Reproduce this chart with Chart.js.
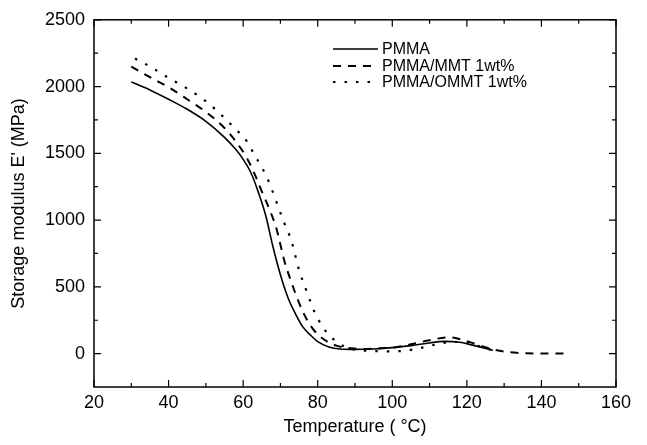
<!DOCTYPE html>
<html>
<head>
<meta charset="utf-8">
<script src="https://cdn.jsdelivr.net/npm/chart.js@4.4.0/dist/chart.umd.min.js"></script>
<style>
    html, body { margin: 0; padding: 0; background: #fff; }
    #wrap { width: 647px; height: 445px; }
</style>
</head>
<body>
<div id="wrap"><canvas id="dmaChart"></canvas></div>
<script>
// storage modulus curves (temperature in °C, E' in MPa)
const pmmaTemp = [30, 35, 40, 45, 50, 55, 58, 60, 62, 64, 66, 68, 70, 72, 74, 76, 78, 80, 83, 86, 90, 95, 100, 105, 110, 114, 118, 122, 127];
const pmmaMod  = [2035, 1975, 1905, 1830, 1740, 1620, 1530, 1455, 1360, 1215, 1040, 800, 590, 420, 300, 200, 140, 90, 50, 35, 32, 35, 45, 60, 80, 92, 85, 60, 25];

const mmtTemp = [30, 35, 40, 45, 50, 55, 58, 61, 63, 65, 67, 69, 71, 73, 75, 77, 79, 82, 85, 89, 93, 97, 101, 105, 110, 115, 118, 121, 124, 127, 131, 136, 142, 147];
const mmtMod  = [2150, 2070, 1995, 1905, 1810, 1690, 1590, 1465, 1350, 1215, 1085, 930, 700, 530, 380, 260, 175, 100, 60, 40, 35, 40, 48, 70, 100, 122, 110, 84, 55, 32, 12, 3, 1, 0];

const ommtTemp = [31, 35, 40, 45, 50, 55, 58, 61, 63, 65, 67, 69, 71, 73, 75, 77, 79, 81, 83, 85, 87, 90, 94, 99, 102, 105, 108, 112, 116, 120, 124, 127];
const ommtMod  = [2210, 2150, 2065, 1985, 1890, 1765, 1680, 1590, 1490, 1395, 1280, 1130, 980, 840, 625, 470, 320, 215, 140, 90, 55, 30, 20, 17, 18, 28, 45, 70, 88, 80, 50, 25];

const seriesNames = ['PMMA', 'PMMA/MMT 1wt%', 'PMMA/OMMT 1wt%'];

// axis ticks
const xTickValues = [20, 40, 60, 80, 100, 120, 140, 160];
const xMinorTicks = [30, 50, 70, 90, 110, 130, 150];
const yTickValues = [0, 500, 1000, 1500, 2000, 2500];
const yMinorTicks = [250, 750, 1250, 1750, 2250];

const FONT = 'Liberation Sans, Arial, sans-serif';

function toPoints(xs, ys) {
    return xs.map((t, i) => ({ x: t, y: ys[i] }));
}

// 边框 + 朝内的刻度线
const frameTicks = {
    id: 'frameTicks',
    afterDatasetsDraw(chart) {
        const { ctx, chartArea: a, scales: { x, y } } = chart;
        ctx.save();
        ctx.strokeStyle = '#000';
        ctx.lineWidth = 1.5;
        ctx.strokeRect(a.left, a.top, a.right - a.left, a.bottom - a.top);
        ctx.lineWidth = 1.2;
        ctx.beginPath();
        const xTick = (v, len) => {
            const px = x.getPixelForValue(v);
            ctx.moveTo(px, a.bottom); ctx.lineTo(px, a.bottom - len);
            ctx.moveTo(px, a.top); ctx.lineTo(px, a.top + len);
        };
        const yTick = (v, len) => {
            const py = y.getPixelForValue(v);
            ctx.moveTo(a.left, py); ctx.lineTo(a.left + len, py);
            ctx.moveTo(a.right, py); ctx.lineTo(a.right - len, py);
        };
        xTickValues.forEach(v => xTick(v, 7));
        xMinorTicks.forEach(v => xTick(v, 4));
        yTickValues.forEach(v => yTick(v, 7));
        yMinorTicks.forEach(v => yTick(v, 4));
        ctx.stroke();
        ctx.restore();
    }
};

// 图例放在图内右上方
const insideLegend = {
    id: 'insideLegend',
    afterDraw(chart) {
        const { ctx } = chart;
        const rows = [49, 66, 82];
        ctx.save();
        chart.data.datasets.forEach((ds, i) => {
            ctx.strokeStyle = '#000';
            ctx.lineWidth = ds.borderWidth;
            ctx.setLineDash(ds.borderDash || []);
            ctx.beginPath();
            ctx.moveTo(333, rows[i]);
            ctx.lineTo(378, rows[i]);
            ctx.stroke();
            ctx.setLineDash([]);
            ctx.fillStyle = '#000';
            ctx.font = '16px ' + FONT;
            ctx.textBaseline = 'middle';
            ctx.fillText(ds.label, 382, rows[i] + 1);
        });
        ctx.restore();
    }
};

new Chart(document.getElementById('dmaChart'), {
    type: 'line',
    data: {
        datasets: [
            {
                label: seriesNames[0],
                data: toPoints(pmmaTemp, pmmaMod),
                borderColor: '#000',
                borderWidth: 1.6
            },
            {
                label: seriesNames[1],
                data: toPoints(mmtTemp, mmtMod),
                borderColor: '#000',
                borderWidth: 2,
                borderDash: [8, 7]
            },
            {
                label: seriesNames[2],
                data: toPoints(ommtTemp, ommtMod),
                borderColor: '#000',
                borderWidth: 2.2,
                borderDash: [2.5, 9]
            }
        ]
    },
    options: {
        responsive: true,
        maintainAspectRatio: false,
        animation: false,
        layout: { padding: { top: 18, right: 31, bottom: 6, left: 0 } },
        elements: {
            point: { radius: 0 },
            line: { cubicInterpolationMode: 'monotone', fill: false }
        },
        plugins: {
            legend: { display: false },
            tooltip: { enabled: false }
        },
        scales: {
            x: {
                type: 'linear',
                min: 20,
                max: 160,
                afterBuildTicks: s => { s.ticks = xTickValues.map(v => ({ value: v })); },
                afterFit: s => { s.height = 52; },
                grid: { display: false, drawTicks: false },
                border: { display: false },
                ticks: {
                    color: '#000',
                    padding: 5,
                    maxRotation: 0,
                    font: { family: FONT, size: 18 },
                    callback: v => String(v)
                },
                title: {
                    display: true,
                    text: 'Temperature ( \u00B0C)',
                    color: '#000',
                    padding: { top: 0, bottom: 1 },
                    font: { family: FONT, size: 18 }
                }
            },
            y: {
                type: 'linear',
                min: -250,
                max: 2500,
                afterBuildTicks: s => { s.ticks = yTickValues.map(v => ({ value: v })); },
                afterFit: s => { s.width = 94; },
                grid: { display: false, drawTicks: false },
                border: { display: false },
                ticks: {
                    color: '#000',
                    padding: 9,
                    font: { family: FONT, size: 18 },
                    callback: v => String(v)
                },
                title: {
                    display: true,
                    text: "Storage modulus E' (MPa)",
                    color: '#000',
                    padding: { top: 8, bottom: 0 },
                    font: { family: FONT, size: 18 }
                }
            }
        }
    },
    plugins: [frameTicks, insideLegend]
});
</script>
</body>
</html>
